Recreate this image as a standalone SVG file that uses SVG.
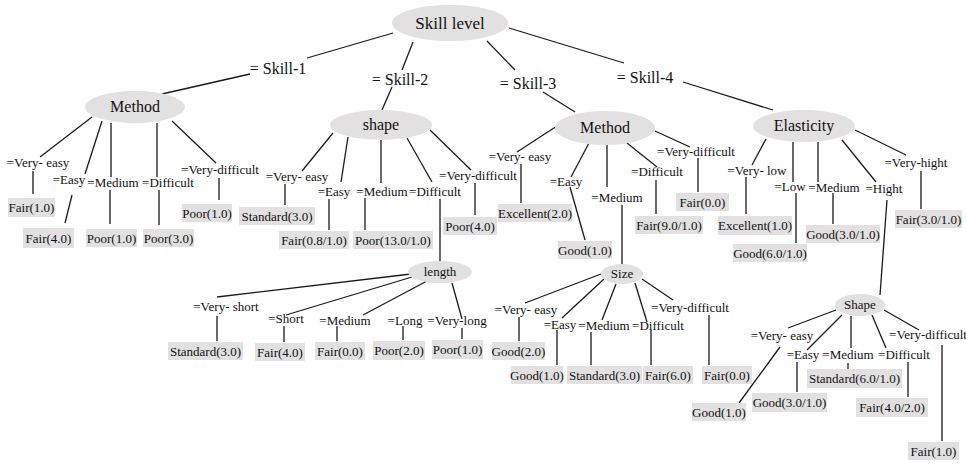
<svg xmlns="http://www.w3.org/2000/svg" width="966" height="464" viewBox="0 0 966 464">
<style>
text{font-family:"Liberation Serif","Times New Roman",serif;fill:#111;text-anchor:middle}
.n ellipse{fill:#e2e0e0}
.leaf rect{fill:#e2e0e0}
.leaf text,.lab{font-size:13px}
.big{font-size:16px}
.root{font-size:17px}
.sm{font-size:13px}
#connectors line{stroke:#1a1a1a;stroke-width:1.3}
</style>
<rect width="966" height="464" fill="#fff"/>
<g id="connectors">
<line x1="393" y1="33" x2="307" y2="58"/><line x1="250" y1="74" x2="162" y2="94"/>
<line x1="413" y1="42" x2="402" y2="70"/><line x1="392" y1="87" x2="382" y2="110"/>
<line x1="487" y1="41" x2="515" y2="70"/><line x1="543" y1="92" x2="575" y2="112"/>
<line x1="509" y1="28" x2="624" y2="63"/><line x1="683" y1="82" x2="773" y2="110"/>
<!-- Method 1 -->
<line x1="92" y1="117" x2="40" y2="157"/><line x1="33" y1="171" x2="33" y2="194"/>
<line x1="102" y1="121" x2="85" y2="174"/><line x1="72" y1="195" x2="65" y2="223"/>
<line x1="111" y1="123" x2="111" y2="177"/><line x1="110" y1="190" x2="110" y2="224"/>
<line x1="157" y1="123" x2="157" y2="177"/><line x1="159" y1="190" x2="159" y2="225"/>
<line x1="172" y1="121" x2="216" y2="163"/><line x1="219" y1="178" x2="219" y2="200"/>
<!-- shape -->
<line x1="333" y1="133" x2="302" y2="171"/><line x1="285" y1="184" x2="285" y2="205"/>
<line x1="348" y1="137" x2="341" y2="182"/><line x1="329" y1="199" x2="329" y2="230"/>
<line x1="381" y1="140" x2="381" y2="183"/><line x1="365" y1="198" x2="365" y2="230"/>
<line x1="407" y1="138" x2="432" y2="182"/><line x1="440" y1="199" x2="440" y2="262"/>
<line x1="430" y1="130" x2="471" y2="170"/><line x1="475" y1="183" x2="475" y2="215"/>
<!-- Method 3 -->
<line x1="557" y1="126" x2="517" y2="152"/><line x1="521" y1="164" x2="521" y2="203"/>
<line x1="589" y1="143" x2="571" y2="177"/><line x1="570" y1="187" x2="585" y2="240"/>
<line x1="607" y1="145" x2="607" y2="187"/><line x1="622" y1="205" x2="622" y2="264"/>
<line x1="627" y1="143" x2="657" y2="167"/><line x1="656" y1="180" x2="656" y2="214"/>
<line x1="655" y1="131" x2="690" y2="147"/><line x1="698" y1="158" x2="698" y2="192"/>
<!-- Elasticity -->
<line x1="766" y1="139" x2="752" y2="165"/><line x1="746" y1="177" x2="746" y2="214"/>
<line x1="793" y1="142" x2="793" y2="182"/><line x1="796" y1="193" x2="796" y2="243"/>
<line x1="818" y1="142" x2="818" y2="182"/><line x1="833" y1="193" x2="833" y2="224"/>
<line x1="842" y1="140" x2="876" y2="182"/><line x1="887" y1="200" x2="880" y2="295"/>
<line x1="855" y1="130" x2="906" y2="155"/><line x1="921" y1="171" x2="921" y2="209"/>
<!-- length -->
<line x1="411" y1="274" x2="217" y2="297"/><line x1="217" y1="316" x2="217" y2="341"/>
<line x1="412" y1="277" x2="286" y2="315"/><line x1="284" y1="326" x2="284" y2="342"/>
<line x1="427" y1="281" x2="363" y2="315"/><line x1="337" y1="326" x2="337" y2="341"/>
<line x1="403" y1="326" x2="403" y2="340"/>
<line x1="452" y1="283" x2="462" y2="319"/><line x1="462" y1="328" x2="462" y2="339"/>
<!-- Size -->
<line x1="601" y1="274" x2="525" y2="303"/><line x1="519" y1="317" x2="519" y2="341"/>
<line x1="604" y1="279" x2="562" y2="318"/><line x1="557" y1="330" x2="557" y2="365"/>
<line x1="616" y1="284" x2="602" y2="320"/><line x1="591" y1="332" x2="591" y2="365"/>
<line x1="635" y1="283" x2="647" y2="322"/><line x1="651" y1="330" x2="651" y2="365"/>
<line x1="642" y1="279" x2="673" y2="300"/><line x1="709" y1="315" x2="709" y2="365"/>
<!-- Shape -->
<line x1="836" y1="310" x2="788" y2="328"/><line x1="780" y1="347" x2="739" y2="403"/>
<line x1="842" y1="315" x2="807" y2="350"/><line x1="797" y1="362" x2="797" y2="392"/>
<line x1="851" y1="316" x2="851" y2="348"/><line x1="848" y1="363" x2="848" y2="369"/>
<line x1="872" y1="315" x2="886" y2="348"/><line x1="908" y1="362" x2="908" y2="397"/>
<line x1="884" y1="310" x2="919" y2="330"/><line x1="942" y1="345" x2="942" y2="441"/>
</g>
<g id="edge-labels">
<text class="big" x="278" y="74">= Skill-1</text>
<text class="big" x="400" y="85">= Skill-2</text>
<text class="big" x="528" y="89">= Skill-3</text>
<text class="big" x="645" y="83">= Skill-4</text>
<text class="lab" x="38" y="167">=Very- easy</text>
<text class="lab" x="69" y="184">=Easy</text>
<text class="lab" x="113" y="187">=Medium</text>
<text class="lab" x="168" y="187">=Difficult</text>
<text class="lab" x="220" y="174">=Very-difficult</text>
<text class="lab" x="297" y="181">=Very- easy</text>
<text class="lab" x="334" y="196">=Easy</text>
<text class="lab" x="382" y="196">=Medium</text>
<text class="lab" x="435" y="196">=Difficult</text>
<text class="lab" x="478" y="180">=Very-difficult</text>
<text class="lab" x="520" y="161">=Very- easy</text>
<text class="lab" x="566" y="186">=Easy</text>
<text class="lab" x="617" y="202">=Medium</text>
<text class="lab" x="657" y="176">=Difficult</text>
<text class="lab" x="696" y="156">=Very-difficult</text>
<text class="lab" x="757" y="175">=Very- low</text>
<text class="lab" x="790" y="191">=Low</text>
<text class="lab" x="834" y="192">=Medium</text>
<text class="lab" x="884" y="193">=Hight</text>
<text class="lab" x="916" y="167">=Very-hight</text>
<text class="lab" x="226" y="311">=Very- short</text>
<text class="lab" x="286" y="323">=Short</text>
<text class="lab" x="345" y="325">=Medium</text>
<text class="lab" x="405" y="325">=Long</text>
<text class="lab" x="457" y="325">=Very-long</text>
<text class="lab" x="526" y="314">=Very- easy</text>
<text class="lab" x="560" y="329">=Easy</text>
<text class="lab" x="604" y="330">=Medium</text>
<text class="lab" x="658" y="330">=Difficult</text>
<text class="lab" x="690" y="312">=Very-difficult</text>
<text class="lab" x="782" y="340">=Very- easy</text>
<text class="lab" x="803" y="359">=Easy</text>
<text class="lab" x="848" y="359">=Medium</text>
<text class="lab" x="904" y="359">=Difficult</text>
<text class="lab" x="928" y="339">=Very-difficult</text>
</g>
<g id="node-skill-level" class="n"><ellipse cx="450" cy="23" rx="58" ry="18"/><text class="root" x="450" y="29">Skill level</text></g>
<g id="node-method-1" class="n"><ellipse cx="135" cy="107" rx="50" ry="16"/><text class="big" x="135" y="112">Method</text></g>
<g id="node-shape-2" class="n"><ellipse cx="381" cy="125" rx="51" ry="15"/><text class="big" x="381" y="130">shape</text></g>
<g id="node-method-3" class="n"><ellipse cx="605" cy="128" rx="50" ry="17"/><text class="big" x="605" y="133">Method</text></g>
<g id="node-elasticity" class="n"><ellipse cx="804" cy="126" rx="51" ry="16"/><text class="big" x="804" y="131">Elasticity</text></g>
<g id="node-length" class="n"><ellipse cx="440" cy="272" rx="32" ry="11"/><text class="sm" x="440" y="276">length</text></g>
<g id="node-size" class="n"><ellipse cx="622" cy="274" rx="21" ry="10"/><text class="sm" x="622" y="278">Size</text></g>
<g id="node-shape-h" class="n"><ellipse cx="860" cy="305" rx="25" ry="11"/><text class="sm" x="860" y="309">Shape</text></g>
<g id="leaf-1" class="leaf"><rect x="8" y="198" width="47" height="19"/><text x="31.5" y="212">Fair(1.0)</text></g>
<g id="leaf-2" class="leaf"><rect x="23" y="228" width="51" height="20"/><text x="48.5" y="242.5">Fair(4.0)</text></g>
<g id="leaf-3" class="leaf"><rect x="86" y="229" width="51" height="18"/><text x="111.5" y="242.5">Poor(1.0)</text></g>
<g id="leaf-4" class="leaf"><rect x="143" y="229" width="51" height="18"/><text x="168.5" y="242.5">Poor(3.0)</text></g>
<g id="leaf-5" class="leaf"><rect x="182" y="204" width="50" height="18"/><text x="207" y="217.5">Poor(1.0)</text></g>
<g id="leaf-6" class="leaf"><rect x="239" y="207" width="76" height="18"/><text x="277" y="220.5">Standard(3.0)</text></g>
<g id="leaf-7" class="leaf"><rect x="279" y="231" width="70" height="18"/><text x="314" y="244.5">Fair(0.8/1.0)</text></g>
<g id="leaf-8" class="leaf"><rect x="353" y="231" width="80" height="18"/><text x="393" y="244.5">Poor(13.0/1.0)</text></g>
<g id="leaf-9" class="leaf"><rect x="443" y="217" width="54" height="18"/><text x="470" y="230.5">Poor(4.0)</text></g>
<g id="leaf-10" class="leaf"><rect x="498" y="204" width="74" height="18"/><text x="535" y="217.5">Excellent(2.0)</text></g>
<g id="leaf-11" class="leaf"><rect x="558" y="241" width="54" height="18"/><text x="585" y="254.5">Good(1.0)</text></g>
<g id="leaf-12" class="leaf"><rect x="635" y="216" width="68" height="18"/><text x="669" y="229.5">Fair(9.0/1.0)</text></g>
<g id="leaf-13" class="leaf"><rect x="676" y="193" width="53" height="18"/><text x="702.5" y="206.5">Fair(0.0)</text></g>
<g id="leaf-14" class="leaf"><rect x="718" y="216" width="74" height="19"/><text x="755" y="230">Excellent(1.0)</text></g>
<g id="leaf-15" class="leaf"><rect x="733" y="244" width="74" height="18"/><text x="770" y="257.5">Good(6.0/1.0)</text></g>
<g id="leaf-16" class="leaf"><rect x="806" y="225" width="74" height="18"/><text x="843" y="238.5">Good(3.0/1.0)</text></g>
<g id="leaf-17" class="leaf"><rect x="895" y="210" width="67" height="18"/><text x="928.5" y="223.5">Fair(3.0/1.0)</text></g>
<g id="leaf-18" class="leaf"><rect x="168" y="342" width="75" height="18"/><text x="205.5" y="355.5">Standard(3.0)</text></g>
<g id="leaf-19" class="leaf"><rect x="255" y="343" width="50" height="18"/><text x="280" y="356.5">Fair(4.0)</text></g>
<g id="leaf-20" class="leaf"><rect x="315" y="342" width="50" height="18"/><text x="340" y="355.5">Fair(0.0)</text></g>
<g id="leaf-21" class="leaf"><rect x="373" y="341" width="52" height="19"/><text x="399" y="355">Poor(2.0)</text></g>
<g id="leaf-22" class="leaf"><rect x="432" y="340" width="51" height="19"/><text x="457.5" y="354">Poor(1.0)</text></g>
<g id="leaf-23" class="leaf"><rect x="492" y="342" width="53" height="18"/><text x="518.5" y="355.5">Good(2.0)</text></g>
<g id="leaf-24" class="leaf"><rect x="511" y="366" width="52" height="18"/><text x="537" y="379.5">Good(1.0)</text></g>
<g id="leaf-25" class="leaf"><rect x="567" y="366" width="75" height="18"/><text x="604.5" y="379.5">Standard(3.0)</text></g>
<g id="leaf-26" class="leaf"><rect x="643" y="366" width="50" height="18"/><text x="668" y="379.5">Fair(6.0)</text></g>
<g id="leaf-27" class="leaf"><rect x="702" y="366" width="50" height="18"/><text x="727" y="379.5">Fair(0.0)</text></g>
<g id="leaf-28" class="leaf"><rect x="692" y="403" width="54" height="18"/><text x="719" y="416.5">Good(1.0)</text></g>
<g id="leaf-29" class="leaf"><rect x="752" y="393" width="75" height="19"/><text x="789.5" y="407">Good(3.0/1.0)</text></g>
<g id="leaf-30" class="leaf"><rect x="807" y="369" width="95" height="19"/><text x="854.5" y="383">Standard(6.0/1.0)</text></g>
<g id="leaf-31" class="leaf"><rect x="856" y="398" width="72" height="19"/><text x="892" y="412">Fair(4.0/2.0)</text></g>
<g id="leaf-32" class="leaf"><rect x="908" y="442" width="51" height="18"/><text x="933.5" y="455.5">Fair(1.0)</text></g>
</svg>
